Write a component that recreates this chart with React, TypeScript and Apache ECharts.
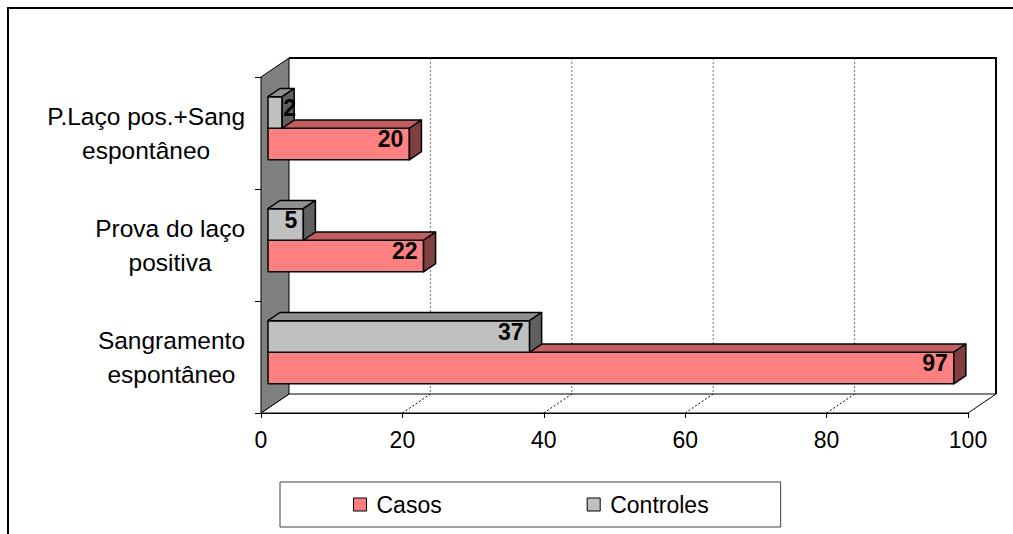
import React, { useEffect, useRef } from 'react';
import * as echarts from 'echarts';

// Categories top to bottom, with the line breaks used on the axis
const categories = ['P.Laço pos.+Sang\nespontâneo', 'Prova do laço\npositiva', 'Sangramento\nespontâneo'];
const casos = [20, 22, 97];
const controles = [2, 5, 37];
const xTicks = [0, 20, 40, 60, 80, 100];
const seriesNames = ['Casos', 'Controles'];

const FONT = "'Liberation Sans', Arial, Helvetica, sans-serif";

// Oblique projection of the depth axis (pixels from the front plane to the back wall)
const DEPTH_X = 28;
const DEPTH_Y = -19;
// Bars sit between these fractions of the depth
const BAR_FRONT = 0.25;
const BAR_BACK = 0.68;
// Thickness of one bar as a share of the category band
const BAR_SHARE = 0.282;
const LABEL_SIZE = 23;

const palettes: Record<string, { front: string; top: string; side: string }> = {
  Casos: { front: '#FF8080', top: '#C06060', side: '#804040' },
  Controles: { front: '#C0C0C0', top: '#909090', side: '#606060' },
};

function renderWalls(params: any, api: any) {
  const cs = params.coordSys;
  const left = cs.x;
  const top = cs.y;
  const right = cs.x + cs.width;
  const bottom = cs.y + cs.height;
  const children: any[] = [];

  // back wall
  children.push({
    type: 'polygon',
    shape: {
      points: [
        [left + DEPTH_X, top + DEPTH_Y],
        [right + DEPTH_X, top + DEPTH_Y],
        [right + DEPTH_X, bottom + DEPTH_Y],
        [left + DEPTH_X, bottom + DEPTH_Y],
      ],
    },
    style: { fill: '#FFFFFF', stroke: null },
  });
  // floor
  children.push({
    type: 'polygon',
    shape: {
      points: [
        [left, bottom],
        [right, bottom],
        [right + DEPTH_X, bottom + DEPTH_Y],
        [left + DEPTH_X, bottom + DEPTH_Y],
      ],
    },
    style: { fill: '#FFFFFF', stroke: '#000000', lineWidth: 1 },
  });
  // dotted value gridlines on floor and back wall
  xTicks.slice(1, -1).forEach((v) => {
    const x = api.coord([v, 0])[0];
    children.push({
      type: 'line',
      shape: { x1: x, y1: bottom, x2: x + DEPTH_X, y2: bottom + DEPTH_Y },
      style: { stroke: '#000000', lineWidth: 1, lineDash: [2, 2] },
    });
    children.push({
      type: 'line',
      shape: { x1: x + DEPTH_X, y1: top + DEPTH_Y, x2: x + DEPTH_X, y2: bottom + DEPTH_Y },
      style: { stroke: '#707070', lineWidth: 1, lineDash: [2, 2] },
    });
  });
  // back wall outline (top and right edges)
  children.push({
    type: 'polyline',
    shape: {
      points: [
        [left + DEPTH_X, top + DEPTH_Y],
        [right + DEPTH_X, top + DEPTH_Y],
        [right + DEPTH_X, bottom + DEPTH_Y],
      ],
    },
    style: { stroke: '#000000', lineWidth: 2, fill: null },
  });
  // side wall
  children.push({
    type: 'polygon',
    shape: {
      points: [
        [left, top],
        [left + DEPTH_X, top + DEPTH_Y],
        [left + DEPTH_X, bottom + DEPTH_Y],
        [left, bottom],
      ],
    },
    style: { fill: '#808080', stroke: '#000000', lineWidth: 1 },
  });
  return { type: 'group', children };
}

function makeBarRenderer(name: string, slot: number) {
  const pal = palettes[name];
  return (params: any, api: any) => {
    const val = api.value(0);
    const cat = api.value(1);
    const start = api.coord([0, cat]);
    const end = api.coord([val, cat]);
    const band = Math.abs(api.size([0, 1])[1]);
    const barH = band * BAR_SHARE;
    const fx = DEPTH_X * BAR_FRONT;
    const fy = DEPTH_Y * BAR_FRONT;
    const bx = DEPTH_X * (BAR_BACK - BAR_FRONT);
    const by = DEPTH_Y * (BAR_BACK - BAR_FRONT);
    const x0 = start[0] + fx;
    const x1 = end[0] + fx;
    const mid = start[1] + fy;
    const y0 = slot === 0 ? mid : mid - barH;
    const y1 = y0 + barH;
    const edge = { stroke: '#000000', lineWidth: 1.5, lineJoin: 'round' };

    const text = String(val);
    const textW = text.length * 0.556 * LABEL_SIZE;
    const fits = x1 - x0 >= textW + 8;
    const labelX = fits ? x1 - 6 : x1 + 1;
    const labelAlign = fits ? 'right' : 'left';

    return {
      type: 'group',
      children: [
        {
          type: 'rect',
          shape: { x: x0, y: y0, width: x1 - x0, height: barH },
          style: { fill: pal.front, ...edge },
        },
        {
          type: 'polygon',
          shape: { points: [[x0, y0], [x1, y0], [x1 + bx, y0 + by], [x0 + bx, y0 + by]] },
          style: { fill: pal.top, ...edge },
        },
        {
          type: 'polygon',
          shape: { points: [[x1, y0], [x1 + bx, y0 + by], [x1 + bx, y1 + by], [x1, y1]] },
          style: { fill: pal.side, ...edge },
        },
        {
          type: 'text',
          style: {
            text,
            x: labelX,
            y: (y0 + y1) / 2 + by / 2 - 0.5,
            align: labelAlign,
            textAlign: labelAlign,
            verticalAlign: 'middle',
            textVerticalAlign: 'middle',
            font: `bold ${LABEL_SIZE}px ${FONT}`,
            fill: '#000000',
          },
        },
      ],
    };
  };
}

export default function App() {
  const ref = useRef<HTMLDivElement>(null);

  useEffect(() => {
    if (!ref.current) return;
    const chart = echarts.init(ref.current, undefined, { renderer: 'svg' });
    const seriesValues = [casos, controles];

    chart.setOption({
      animation: false,
      backgroundColor: '#FFFFFF',
      textStyle: { fontFamily: FONT },
      graphic: [
        {
          type: 'rect',
          shape: { x: 8, y: 8, width: 1100, height: 700 },
          style: { fill: 'none', stroke: '#000000', lineWidth: 2 },
          z: -10,
          silent: true,
        },
      ],
      grid: {
        left: 261,
        top: 77,
        right: 45,
        bottom: 121,
        containLabel: false,
        outerBoundsMode: 'none',
      },
      xAxis: {
        type: 'value',
        min: 0,
        max: 100,
        interval: 20,
        axisLine: { show: true, lineStyle: { color: '#000000', width: 1 } },
        axisTick: { show: true, length: 5, lineStyle: { color: '#000000' } },
        splitLine: { show: false },
        axisLabel: {
          color: '#000000',
          fontSize: 23,
          fontFamily: FONT,
          margin: 15,
          formatter: (v: number) => String(v),
        },
      },
      yAxis: {
        type: 'category',
        inverse: true,
        data: categories,
        axisLine: { show: true, lineStyle: { color: '#000000', width: 1 } },
        axisTick: { show: true, length: 6, lineStyle: { color: '#000000' } },
        splitLine: { show: false },
        axisLabel: {
          margin: 16,
          align: 'right',
          formatter: (v: string) => v.split('\n').map((l) => `{c|${l}}`).join('\n'),
          rich: {
            c: {
              align: 'center',
              fontSize: 24.5,
              fontFamily: FONT,
              color: '#000000',
              lineHeight: 34,
            },
          },
        },
      },
      legend: {
        data: seriesNames,
        left: 280,
        top: 482,
        orient: 'horizontal',
        icon: 'rect',
        itemWidth: 13,
        itemHeight: 13,
        itemGap: 145,
        padding: [11, 72, 11, 73],
        borderColor: '#404040',
        borderWidth: 1,
        backgroundColor: '#FFFFFF',
        itemStyle: { borderColor: '#000000', borderWidth: 1 },
        textStyle: { fontSize: 23, fontFamily: FONT, color: '#000000', padding: [0, 0, 0, 5] },
        selectedMode: false,
      },
      series: [
        {
          type: 'custom',
          name: 'walls',
          z: 1,
          clip: false,
          silent: true,
          encode: { x: 0, y: 1 },
          data: [[0, 0]],
          renderItem: renderWalls,
        },
        ...seriesNames.map((name, slot) => ({
          type: 'custom',
          name,
          z: 3 + slot,
          clip: false,
          itemStyle: { color: palettes[name].front },
          encode: { x: 0, y: 1 },
          data: seriesValues[slot].map((v, i) => [v, i]),
          renderItem: makeBarRenderer(name, slot),
        })),
      ],
    });

    return () => {
      chart.dispose();
    };
  }, []);

  return (
    <div
      ref={ref}
      style={{ position: 'fixed', left: 0, top: 0, width: 1013, height: 534 }}
    />
  );
}
